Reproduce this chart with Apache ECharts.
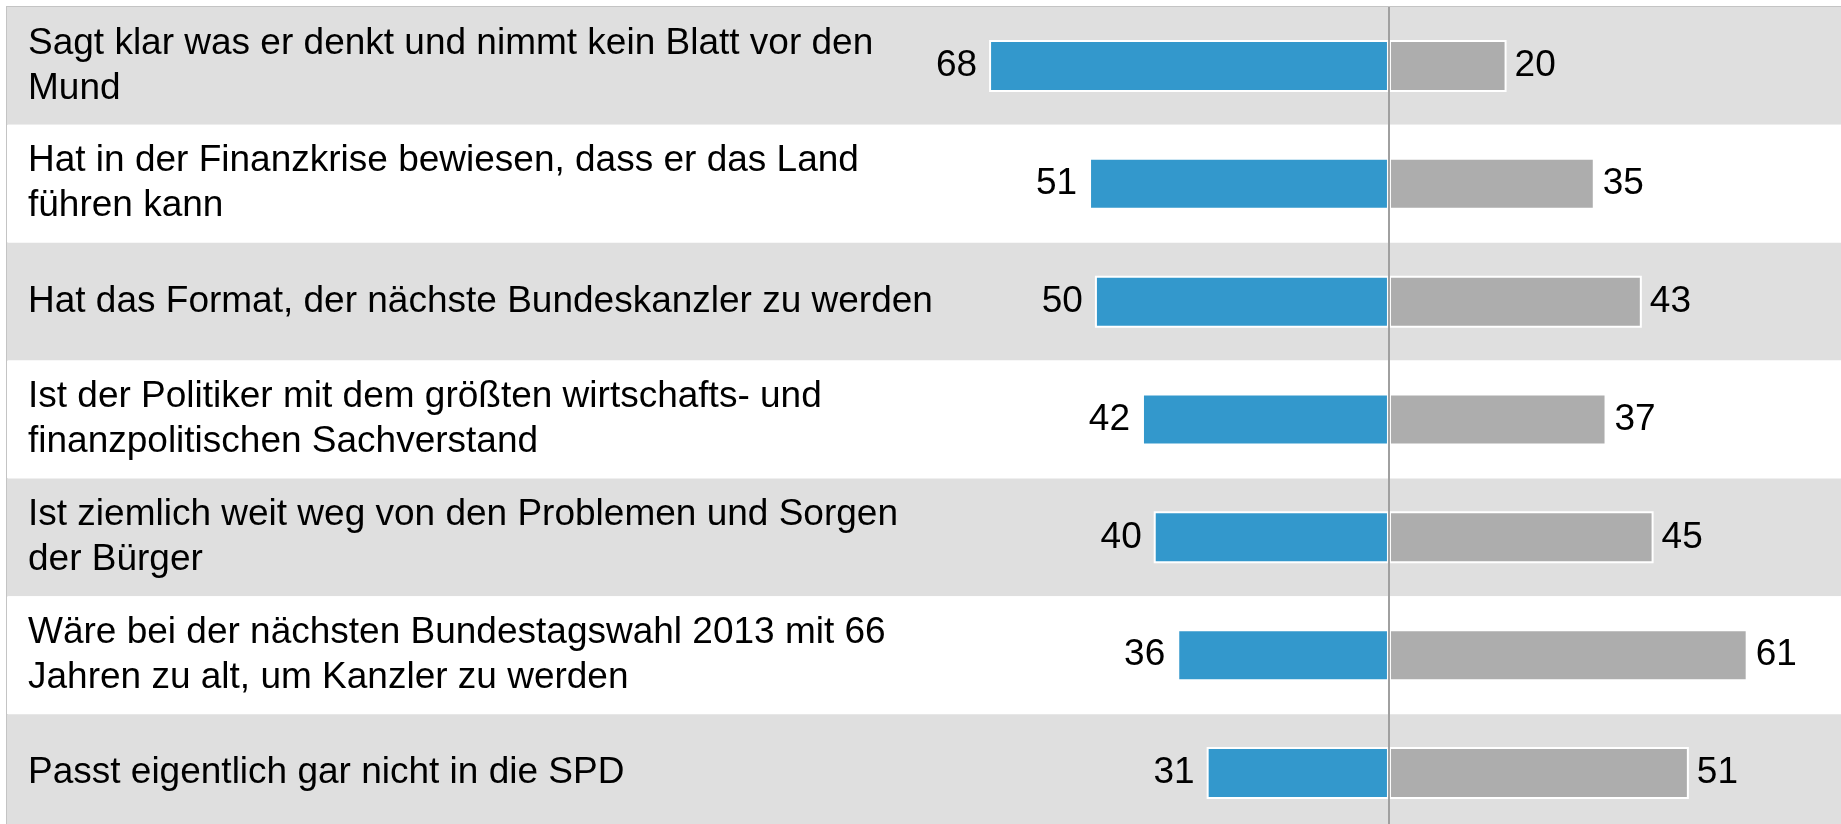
<!DOCTYPE html>
<html>
<head>
<meta charset="utf-8">
<script src="https://cdn.jsdelivr.net/npm/echarts@6/dist/echarts.min.js"></script>
<style>
	html, body { margin: 0; padding: 0; overflow: hidden; background: #fff; }
	#bar_chart { width: 1860px; height: 840px; }
</style>
</head>
<body>
<div id="bar_chart"></div>
<script>
var categories = [
	"Sagt klar was er denkt und nimmt kein Blatt vor den\nMund",
	"Hat in der Finanzkrise bewiesen, dass er das Land\nführen kann",
	"Hat das Format, der nächste Bundeskanzler zu werden",
	"Ist der Politiker mit dem größten wirtschafts- und\nfinanzpolitischen Sachverstand",
	"Ist ziemlich weit weg von den Problemen und Sorgen\nder Bürger",
	"Wäre bei der nächsten Bundestagswahl 2013 mit 66\nJahren zu alt, um Kanzler zu werden",
	"Passt eigentlich gar nicht in die SPD"
];
var zustimmung = [68, 51, 50, 42, 40, 36, 31];
var ablehnung = [20, 35, 43, 37, 45, 61, 51];

var font = "'Liberation Sans', Arial, sans-serif";

function bar_chart() {
	var chart = echarts.init(document.getElementById("bar_chart"));
	chart.setOption({
		animation: false,
		grid: {
			left: 7,
			right: 10,
			top: 7,
			bottom: 8,
			show: true,
			borderColor: '#c4c4c4',
			borderWidth: 2,
			backgroundColor: 'transparent'
		},
		xAxis: {
			type: 'value',
			min: -235,
			max: 78.4,
			show: false
		},
		yAxis: {
			type: 'category',
			inverse: true,
			data: categories,
			axisLine: { show: false },
			axisTick: { show: false },
			splitArea: {
				show: true,
				areaStyle: {
					color: ['#dfdfdf', '#ffffff']
				}
			},
			axisLabel: {
				inside: true,
				margin: 21,
				fontSize: 37,
				lineHeight: 45,
				color: '#000',
				fontFamily: font
			}
		},
		series: [{
			name: 'ja',
			type: 'bar',
			barWidth: 52,
			barGap: '-100%',
			data: zustimmung.map(function (v) {
				return -v;
			}),
			itemStyle: {
				color: '#3398cc',
				borderColor: '#fff',
				borderWidth: 2
			},
			label: {
				show: true,
				position: 'left',
				distance: 12,
				fontSize: 37,
				color: '#000',
				fontFamily: font,
				formatter: function (p) {
					return Math.abs(p.value);
				}
			}
		}, {
			name: 'nein',
			type: 'bar',
			barWidth: 52,
			barGap: '-100%',
			data: ablehnung,
			itemStyle: {
				color: '#adadad',
				borderColor: '#fff',
				borderWidth: 2
			},
			label: {
				show: true,
				position: 'right',
				distance: 8,
				fontSize: 37,
				color: '#000',
				fontFamily: font
			},
			markLine: {
				silent: true,
				symbol: ['none', 'none'],
				label: { show: false },
				lineStyle: {
					color: '#a0a0a0',
					width: 2,
					type: 'solid'
				},
				data: [{ xAxis: 0 }]
			}
		}]
	});
}

bar_chart();
</script>
</body>
</html>
